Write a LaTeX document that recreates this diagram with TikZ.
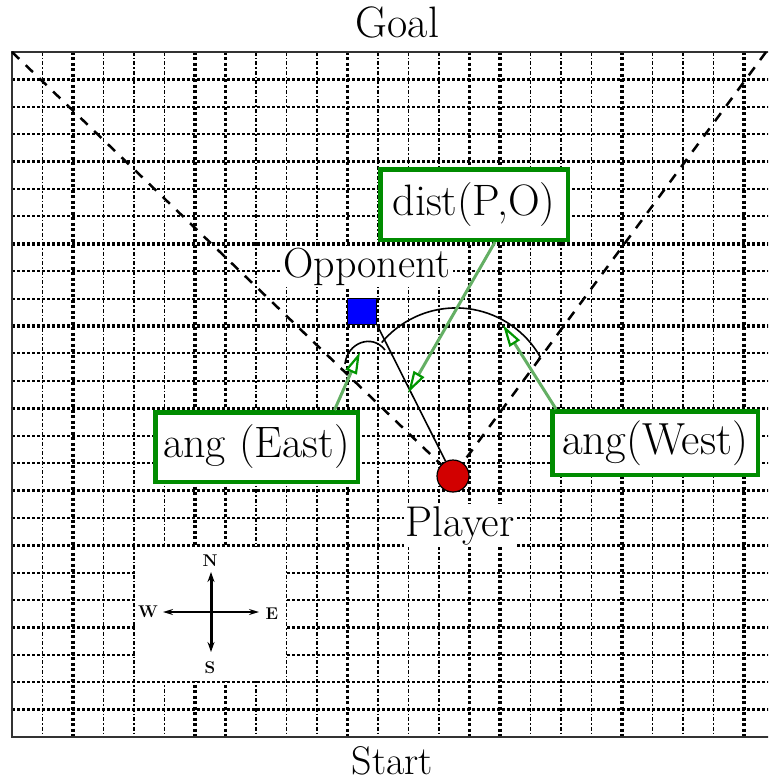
\documentclass[tikz,border=0pt]{standalone}
\usetikzlibrary{arrows.meta,calc}
\definecolor{boxgreen}{RGB}{0,140,0}
\definecolor{arrowgreen}{RGB}{100,175,100}
\definecolor{headgreen}{RGB}{0,150,0}
\definecolor{playerred}{RGB}{210,0,0}
\definecolor{oppblue}{RGB}{0,0,255}
\begin{document}
\begin{tikzpicture}[x=1pt,y=-1pt,
  hl/.style={line width=1.9pt,dash pattern=on 3pt off 2pt},
  hh/.style={line width=3.4pt,dash pattern=on 3pt off 2pt},
  vl/.style={line width=1.8pt,dash pattern=on 4pt off 2pt on 1.5pt off 2pt},
  vh/.style={line width=3.4pt,dash pattern=on 3pt off 2.5pt},
  diag/.style={line width=2.5pt,dash pattern=on 10pt off 9pt},
  labelbox/.style={draw=boxgreen,line width=4.5pt,fill=white,font=\fontsize{44}{50}\selectfont,inner sep=0pt},
  ptr/.style={draw=arrowgreen,line width=3pt,-{Triangle[length=22pt,width=12pt,color=headgreen,fill=white,line width=2.2pt]}},
  plainlabel/.style={font=\fontsize{43}{50}\selectfont},
  cmp/.style={font=\bfseries\fontsize{17}{19}\selectfont,inner sep=0pt},
  curve/.style={line width=1.6pt,black}
]
\useasboundingbox (0,0) rectangle (768,781);
\clip (0,0) rectangle (768,781);
% grid
\foreach \k in {1,3,4,5,8,9,10,12,13,14,17,18,19,21,22,23}
  \draw[vl] ({12+30.5*\k},52) -- ({12+30.5*\k},737);
\foreach \k in {2,6,7,11,15,16,20,24}
  \draw[vh] ({12+30.5*\k},52) -- ({12+30.5*\k},737);
\foreach \k in {2,3,5,6,8,9,11,12,14,15,17,19,20,22,23}
  \draw[hl] (12,{52+27.4*\k}) -- (780,{52+27.4*\k});
\foreach \k in {1,4,7,10,13,16,18,21,24}
  \draw[hh] (12,{52+27.4*\k}) -- (780,{52+27.4*\k});
% compass background
\fill[white] (136,547) rectangle (285,681);
% frame
\draw[line width=2.5pt,black!80] (790,52) -- (12,52) -- (12,737) -- (790,737);
% boxes and markers
\node[labelbox,minimum width=187.5pt,minimum height=70.5pt] (distbox) at (474,204.5) {dist(P,O)};
\node[labelbox,minimum width=202.5pt,minimum height=69.5pt] (eastbox) at (256.5,447) {ang (East)};
\node[labelbox,minimum width=205.5pt,minimum height=63.5pt,font=\fontsize{45}{50}\selectfont] (westbox) at (655,443) {ang(West)};
\node[draw=black,line width=1.2pt,fill=oppblue,minimum width=29pt,minimum height=26pt,inner sep=0pt] (opp) at (362,311.5) {};
\node[circle,draw=black,line width=1.2pt,fill=playerred,minimum size=32pt,inner sep=0pt] (player) at (453,476) {};
% diagonals
\coordinate (tl) at (12,52);
\coordinate (tr) at (766,52);
\draw[diag] (tl) -- (player);
\draw[diag] (tr) -- (player);
% player-opponent line and arcs
\draw[curve] (opp.south east) -- (player);
\draw[curve] (381.7,342.6) arc[start angle=-140,end angle=-30,radius=97] -- ++(-3,6);
\draw[curve] (345,364) .. controls (347,343) and (372,333) .. (385,350);
% pointers
\coordinate (tipD) at (408,393);
\coordinate (tipE) at (360,352);
\coordinate (tipW) at (503,325);
\draw[ptr] ([xshift=21pt]distbox.south) -- (tipD);
\draw[ptr] ([xshift=78pt]eastbox.north) -- (tipE);
\draw[ptr] ([xshift=6pt]westbox.north west) -- (tipW);
% labels
\node[plainlabel,anchor=base,font=\fontsize{44}{50}\selectfont] (goal) at (397.5,38) {Goal};
\node[plainlabel,anchor=base,font=\fontsize{40}{46}\selectfont] (start) at (392.5,774) {Start};
\node[plainlabel,anchor=base,fill=white,inner sep=2pt,font=\fontsize{42}{48}\selectfont] (opplabel) at (367,277) {Opponent};
\node[plainlabel,anchor=base,fill=white,inner sep=2pt] (playerlabel) at (460,536) {Player};
% compass
\node[cmp] (cN) at (210,561) {N};
\node[cmp] (cS) at (210,668) {S};
\node[cmp] (cW) at (148,612) {W};
\node[cmp] (cE) at (272,614) {E};
\coordinate (cn) at (211,572);
\coordinate (cs) at (211,652);
\coordinate (cw) at (163,612);
\coordinate (ce) at (259,612);
\draw[line width=3pt,{Stealth[length=10pt,width=7pt]}-{Stealth[length=10pt,width=7pt]}] (cs) -- (cn);
\draw[line width=1.5pt,{Stealth[length=10pt,width=6pt]}-{Stealth[length=10pt,width=6pt]}] (cw) -- (ce);
\end{tikzpicture}
\end{document}
